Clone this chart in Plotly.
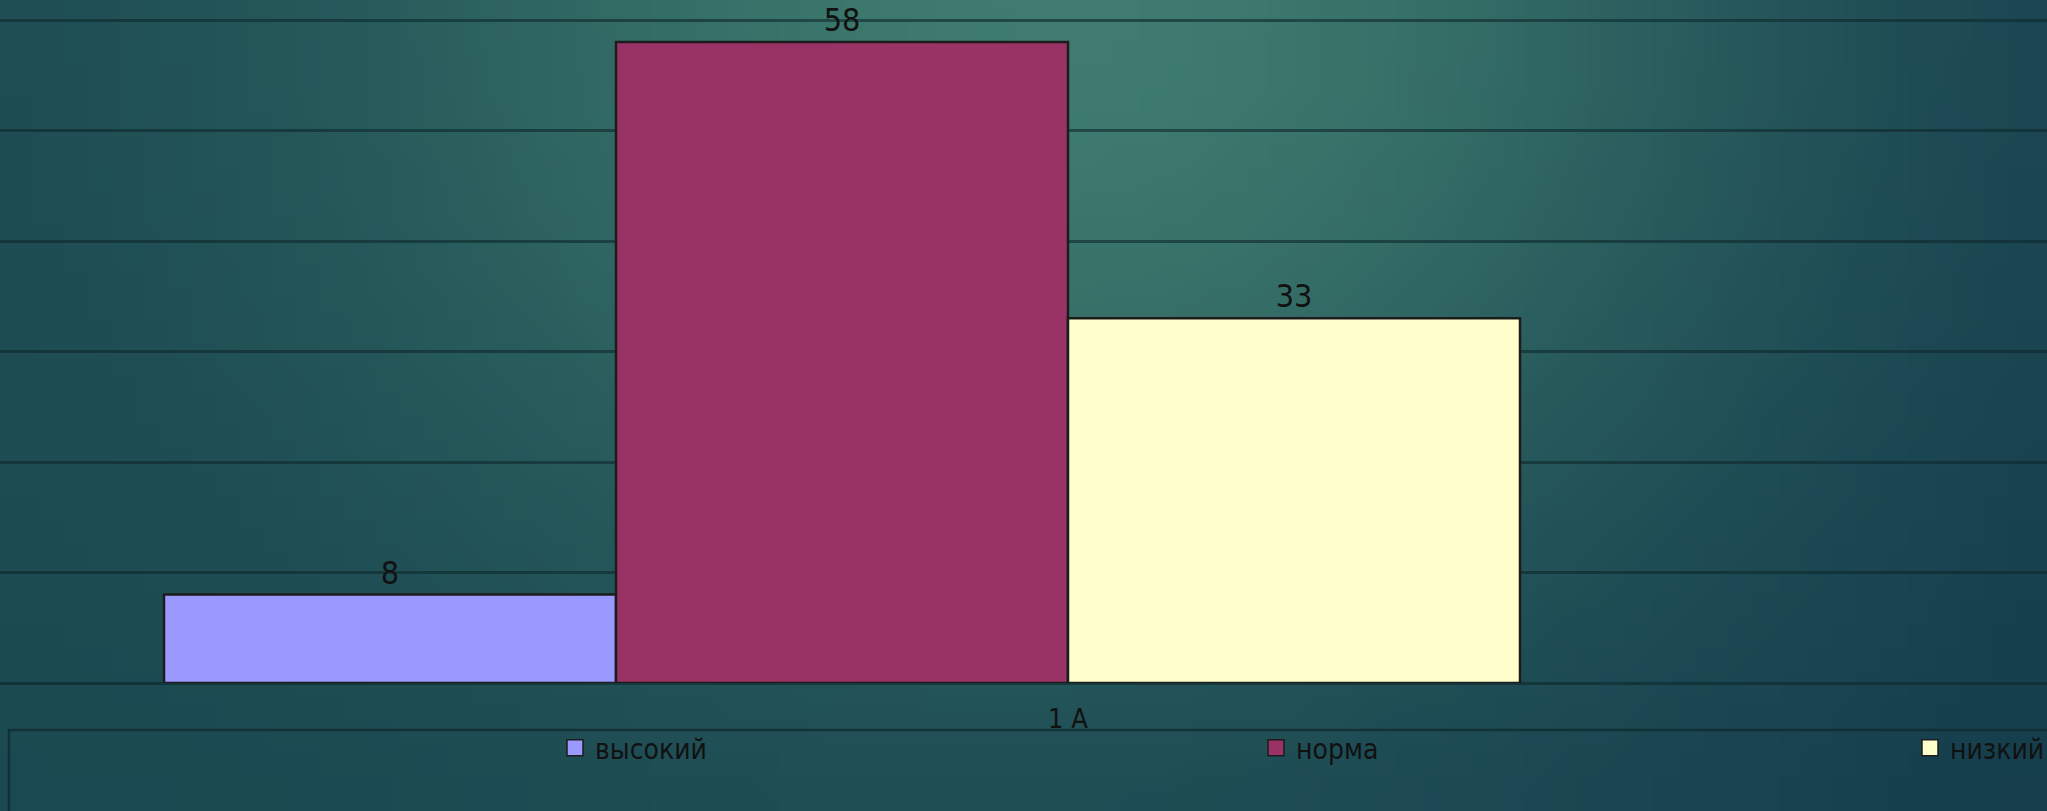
import math, zlib, struct, base64
import plotly.graph_objects as go

categories = ["1 A"]
series_names = ["высокий", "норма", "низкий"]
series_values = [[8], [58], [33]]
series_colors = ["#9999FF", "#993366", "#FFFFCC"]

W, H = 2047, 811
PLOT_BOTTOM = 683  # px from top

# ---- gradient background as a small PNG ----
def make_png(w, h, rows):
    raw = b"".join(b"\x00" + bytes(r) for r in rows)
    def chunk(t, d):
        return struct.pack(">I", len(d)) + t + d + struct.pack(">I", zlib.crc32(t + d) & 0xFFFFFFFF)
    return (b"\x89PNG\r\n\x1a\n" + chunk(b"IHDR", struct.pack(">IIBBBBB", w, h, 8, 2, 0, 0, 0))
            + chunk(b"IDAT", zlib.compress(raw)) + chunk(b"IEND", b""))

gw, gh = 80, 32
light = (63, 124, 111)
dark_l = (26, 72, 80)
dark_r = (20, 60, 76)
rows = []
for j in range(gh):
    v = j / (gh - 1)
    row = []
    for i in range(gw):
        u = i / (gw - 1)
        t = math.exp(-(((u - 0.52) / 0.36) ** 2 + (v / 0.8) ** 2))
        d = [dark_l[k] * (1 - u) + dark_r[k] * u for k in range(3)]
        c = [int(round(d[k] * (1 - t) + light[k] * t)) for k in range(3)]
        row.extend(c)
    rows.append(row)
bg_uri = "data:image/png;base64," + base64.b64encode(make_png(gw, gh, rows)).decode()

FONT = "DejaVu Sans Condensed, Liberation Sans Narrow, DejaVu Sans, sans-serif"

plot_h = PLOT_BOTTOM
def py(px):  # pixel y from top -> paper y
    return (PLOT_BOTTOM - px) / plot_h
def pxx(px):
    return px / W

BAR_W = 0.25
unit = 452 / BAR_W          # px per x unit
cx = 1068                   # pixel position of the category tick
offsets = [-2 * BAR_W, -BAR_W, 0.0]

fig = go.Figure()
for name, vals, col, off in zip(series_names, series_values, series_colors, offsets):
    fig.add_trace(go.Bar(
        x=categories, y=vals, name=name, showlegend=False,
        width=BAR_W, offset=off,
        marker=dict(color=col, line=dict(color="#1c1c1c", width=2.5)),
        text=vals, textposition="outside", cliponaxis=False,
        textfont=dict(size=32, color="#111111", family=FONT),
    ))

legend_ids = ["legend", "legend2", "legend3"]
for name, col, lg in zip(series_names, series_colors, legend_ids):
    fig.add_trace(go.Scatter(
        x=[None], y=[None], mode="markers", name=name, legend=lg, showlegend=True,
        marker=dict(symbol="square", size=16, color=col, line=dict(color="#1c1c1c", width=1.5)),
    ))

legend_marker_x = [577, 1278, 1932]
layouts = {}
for lg, mx in zip(legend_ids, legend_marker_x):
    layouts[lg] = dict(
        x=pxx(mx - 22), y=py(748), xanchor="left", yanchor="middle",
        orientation="h", bgcolor="rgba(0,0,0,0)", borderwidth=0,
        font=dict(size=28, color="#111111", family=FONT),
    )

fig.update_layout(
    width=W, height=H,
    margin=dict(l=0, r=0, t=0, b=H - PLOT_BOTTOM, autoexpand=False),
    paper_bgcolor="#245a5c",
    plot_bgcolor="rgba(0,0,0,0)",
    barmode="overlay",
    showlegend=True,
    xaxis=dict(
        type="category", range=[-cx / unit, (W - cx) / unit],
        showgrid=False, zeroline=False, showline=False,
        ticks="outside", ticklen=12, tickcolor="rgba(0,0,0,0)",
        tickfont=dict(size=27, color="#111111", family=FONT),
    ),
    yaxis=dict(
        range=[0, PLOT_BOTTOM / 11.05], dtick=10, showticklabels=False,
        showgrid=True, gridcolor="rgba(14,40,44,0.6)", gridwidth=3,
        zeroline=True, zerolinecolor="rgba(14,40,44,0.6)", zerolinewidth=3,
        showline=False,
    ),
    images=[dict(
        source=bg_uri, xref="paper", yref="paper", x=0, y=1,
        sizex=1, sizey=H / plot_h, sizing="stretch", layer="below",
        xanchor="left", yanchor="top",
    )],
    shapes=[dict(
        type="rect", xref="paper", yref="paper",
        x0=pxx(9), x1=1.02, y0=py(730), y1=py(H + 20),
        line=dict(color="rgba(14,40,44,0.7)", width=2.5), fillcolor="rgba(0,0,0,0)",
    )],
    **layouts,
)

fig.write_html(
    "out.html",
    config={"displayModeBar": False},
    post_script="document.body.style.margin='0';document.body.style.overflow='hidden';",
)
